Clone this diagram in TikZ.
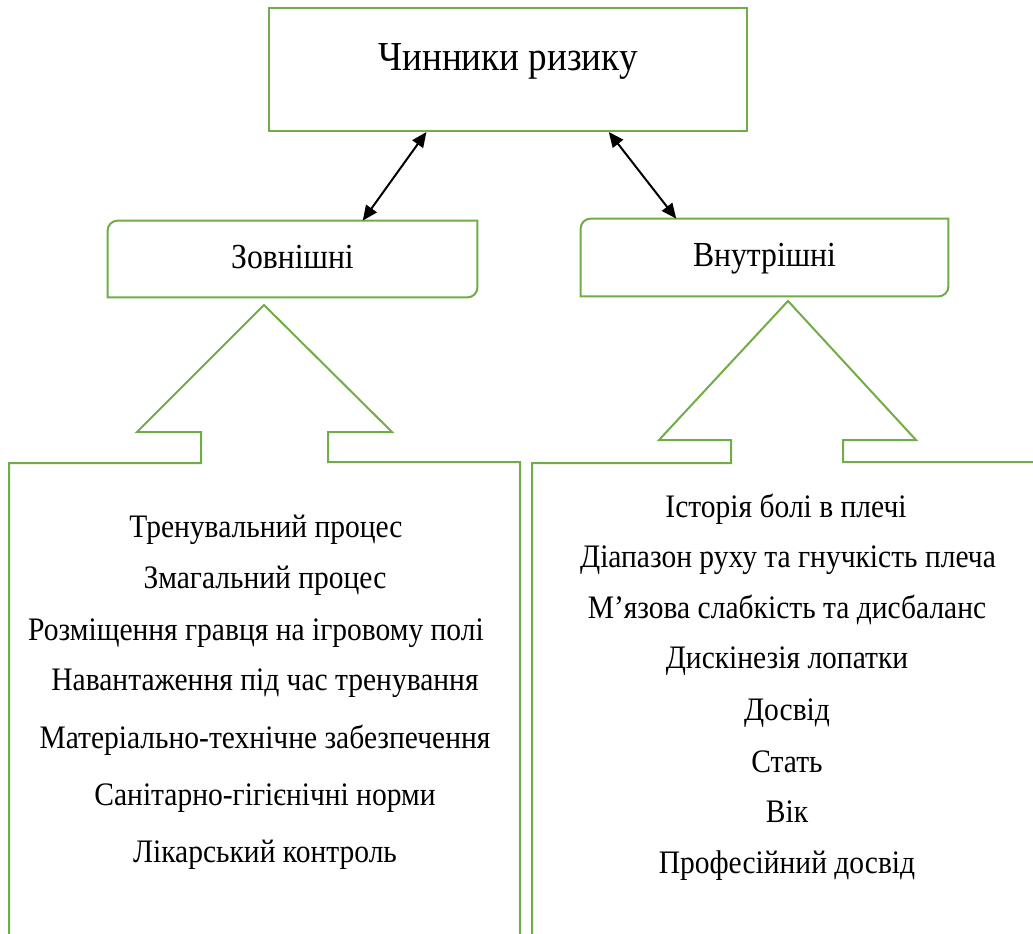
\documentclass[tikz,border=0pt]{standalone}
\usepackage{fontspec}
\setmainfont{Liberation Serif}[FakeStretch=0.9]
\usetikzlibrary{arrows.meta,calc}
\definecolor{officegreen}{RGB}{112,173,71}

\begin{document}
\begin{tikzpicture}[x=0.5pt,y=-0.5pt,
    greenline/.style={draw=officegreen,line width=1pt},
    topbox/.style={greenline,minimum width=239pt,minimum height=61.5pt,inner sep=0pt,
      font=\fontsize{20.6}{24}\selectfont,text height=14pt,text depth=13.5pt},
    midbox/.style={minimum width=184.5pt,minimum height=38pt,inner sep=0pt,
      font=\fontsize{17.6}{21}\selectfont,text height=12pt,text depth=3pt},
    item/.style={anchor=base,inner sep=0pt,font=\fontsize{16.4}{20}\selectfont},
    link/.style={black,line width=1pt,
      {Triangle[length=7.5pt,width=6.5pt]}-{Triangle[length=7.5pt,width=6.5pt]}}]
			\clip (0,0) rectangle (1033,933);
			% Chynnyky ryzyku
			\node[topbox] (risk) at (508,69.5) {Чинники ризику};
			% Zovnishni / Vnutrishni
			\node[midbox] (ext) at (292.5,259) {Зовнішні};
			\node[midbox,minimum width=183.5pt,minimum height=38.5pt] (int) at (764.5,257.5) {Внутрішні};
			\draw[greenline] (ext.south west) -- ([yshift=-5pt]ext.north west)
			  arc[start angle=180,end angle=90,radius=5pt] -- (ext.north east)
			  -- ([yshift=5pt]ext.south east) arc[start angle=0,end angle=-90,radius=5pt] -- cycle;
			\draw[greenline] (int.south west) -- ([yshift=-5pt]int.north west)
			  arc[start angle=180,end angle=90,radius=5pt] -- (int.north east)
			  -- ([yshift=5pt]int.south east) arc[start angle=0,end angle=-90,radius=5pt] -- cycle;
			% arrows
			\draw[link] ($(risk.south west)!0.33!(risk.south east)$) -- ($(ext.north west)!0.69!(ext.north east)$);
			\draw[link] ($(risk.south west)!0.71!(risk.south east)$) -- ($(int.north west)!0.26!(int.north east)$);
			% left block
			\draw[greenline] (9,945) -- (9,463) -- (201,463) -- (201,432) -- (137,432) -- (264,305)
			  -- (392,432) -- (328,432) -- (328,462) -- (520,462) -- (520,945);
			\node[item] (e1) at (266,537) {Тренувальний процес};
			\node[item] (e2) at (265,588) {Змагальний процес};
			\node[item] (e3) at (256,640) {Розміщення гравця на ігровому полі};
			\node[item] (e4) at (265,690) {Навантаження під час тренування};
			\node[item] (e5) at (265,748) {Матеріально-технічне забезпечення};
			\node[item] (e6) at (265,805) {Санітарно-гігієнічні норми};
			\node[item] (e7) at (265,862) {Лікарський контроль};
			% right block
			\draw[greenline] (532,945) -- (532,463) -- (731,463) -- (731,440) -- (659,440) -- (788,301)
			  -- (916,440) -- (843,440) -- (843,462) -- (1045,462);
			\node[item] (i1) at (786,517) {Історія болі в плечі};
			\node[item] (i2) at (788,567) {Діапазон руху та гнучкість плеча};
			\node[item] (i3) at (787,618) {М’язова слабкість та дисбаланс};
			\node[item] (i4) at (787,668) {Дискінезія лопатки};
			\node[item] (i5) at (787,720) {Досвід};
			\node[item] (i6) at (787,772) {Стать};
			\node[item] (i7) at (787,822) {Вік};
			\node[item] (i8) at (787,873) {Професійний досвід};
		\end{tikzpicture}
\end{document}
